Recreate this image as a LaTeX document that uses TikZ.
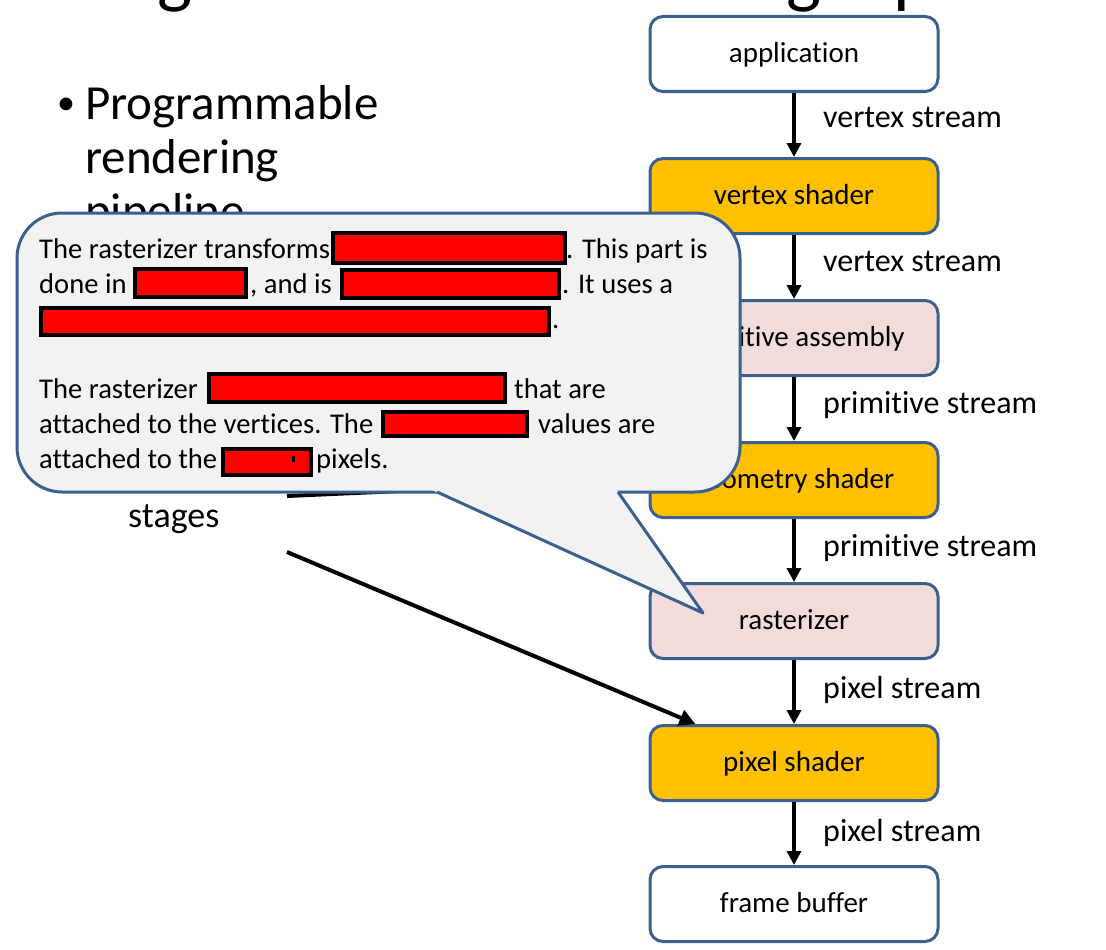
\documentclass[tikz,border=0pt]{standalone}
\usepackage{fontspec}
\setmainfont{Carlito}[Ligatures={NoCommon,NoContextual}]
\usetikzlibrary{arrows.meta}
\definecolor{boxline}{RGB}{60,96,142}
\definecolor{shaderfill}{RGB}{255,192,0}
\definecolor{fixedfill}{RGB}{242,220,219}
\definecolor{notefill}{RGB}{242,242,242}
\tikzset{
  stage/.style={draw=boxline, line width=3pt, rounded corners=13pt,
    minimum width=288pt, minimum height=75pt, text height=21pt, text depth=4pt,
    font=\fontsize{29}{34}\selectfont},
  shader/.style={stage, fill=shaderfill},
  fixedfn/.style={stage, fill=fixedfill},
  iobox/.style={stage, fill=white},
  flow/.style={line width=3.5pt, -{Triangle[width=14pt,length=14pt]}},
  streamlbl/.style={anchor=base west, inner sep=0, font=\fontsize{32}{38}\selectfont},
  notetxt/.style={anchor=base west, inner sep=0, font=\fontsize{28.6}{34}\selectfont},
  slidetxt/.style={anchor=base west, inner sep=0, font=\fontsize{49}{54}\selectfont},
  redact/.style={draw=black, fill=red, line width=3.5pt},
  note/.style={draw=boxline, fill=notefill, line width=3pt},
}
\begin{document}
\begin{tikzpicture}[x=1pt,y=-1pt]
    \useasboundingbox (0,0) rectangle (1106,950);
    \clip (0,0) rectangle (1106,950);

    % slide title, cut at the top
    \node[anchor=base west, inner sep=0, font=\fontsize{74}{80}\selectfont] (title) at (55,0) {Programmable Rendering Pipeline};

    % bullet text
    \node[anchor=base west, inner sep=0, font=\fontsize{36}{40}\selectfont] (bul) at (57,114) {\textbullet};
    \node[slidetxt] (b1) at (85,119) {Programmable};
    \node[slidetxt] (b2) at (85,173) {rendering};
    \node[slidetxt] (b3) at (85,227) {pipeline};
    \node[anchor=base west, inner sep=0, font=\fontsize{36}{42}\selectfont] (b4) at (128,527) {stages};

    % pipeline
    \node[iobox]   (app) at (794,54)  {application};
    \node[shader]  (vs)  at (794,196) {vertex shader};
    \node[fixedfn] (pa)  at (794,338) {primitive assembly};
    \node[shader]  (gs)  at (794,480) {geometry shader};
    \node[fixedfn] (ras) at (794,621) {rasterizer};
    \node[shader]  (ps)  at (794,763) {pixel shader};
    \node[iobox]   (fb)  at (794,904) {frame buffer};

    \draw[flow] (app) -- (vs);
    \draw[flow] (vs) -- (pa);
    \draw[flow] (pa) -- (gs);
    \draw[flow] (gs) -- (ras);
    \draw[flow] (ras) -- (ps);
    \draw[flow] (ps) -- (fb);

    \node[streamlbl] (s1) at (823,128) {vertex stream};
    \node[streamlbl] (s2) at (823,271) {vertex stream};
    \node[streamlbl] (s3) at (823,413) {primitive stream};
    \node[streamlbl] (s4) at (823,556) {primitive stream};
    \node[streamlbl] (s5) at (823,698) {pixel stream};
    \node[streamlbl] (s6) at (823,841) {pixel stream};

    % arrows from the bullet text
    \coordinate (hid) at (287,496);
    \coordinate (stg) at (287,552);
    \draw[line width=4pt, -{Triangle[width=16pt,length=16pt]}] (hid) -- (gs.west);
    \draw[line width=4pt, -{Triangle[width=16pt,length=16pt]}] (stg) -- ([xshift=47pt]ps.north west);

    % callout
    \draw[note, rounded corners=45pt] (17,213) rectangle (740,492);
    \fill[notefill] (430,489) -- (703,613) -- (616,489) -- cycle;
    \draw[boxline, line width=3pt, line join=round] (437,492) -- (703,613) -- (618,492);

    \node[notetxt] (t1a) at (39,258) {The rasterizer transforms};
    \node[notetxt] (t1b) at (566,258) {. This part is};
    \node[notetxt] (t2a) at (39,293) {done in};
    \node[notetxt] (t2b) at (250,293) {, and is};
    \node[notetxt] (t2c) at (562,293) {. It uses a};
    \node[notetxt] (t3a) at (552,328) {.};
    \node[notetxt] (t5a) at (39,398) {The rasterizer};
    \node[notetxt] (t5b) at (514,398) {that are};
    \node[notetxt] (t6a) at (39,433) {attached to the vertices. The};
    \node[notetxt] (t6b) at (538,433) {values are};
    \node[notetxt] (t7a) at (39,468) {attached to the};
    \node[notetxt] (t7b) at (316,468) {pixels.};

    % hidden words
    \draw[redact] (333,233) rectangle (565,263);
    \draw[redact] (135,269) rectangle (246,297);
    \draw[redact] (342,270) rectangle (559,298);
    \draw[redact] (41,308) rectangle (549,335);
    \draw[redact] (209,374) rectangle (505,402);
    \draw[redact] (383,412) rectangle (527,436);
    \draw[redact] (223,449) rectangle (311,475);
    \fill (292,456) rectangle (295,462);
\end{tikzpicture}
\end{document}
